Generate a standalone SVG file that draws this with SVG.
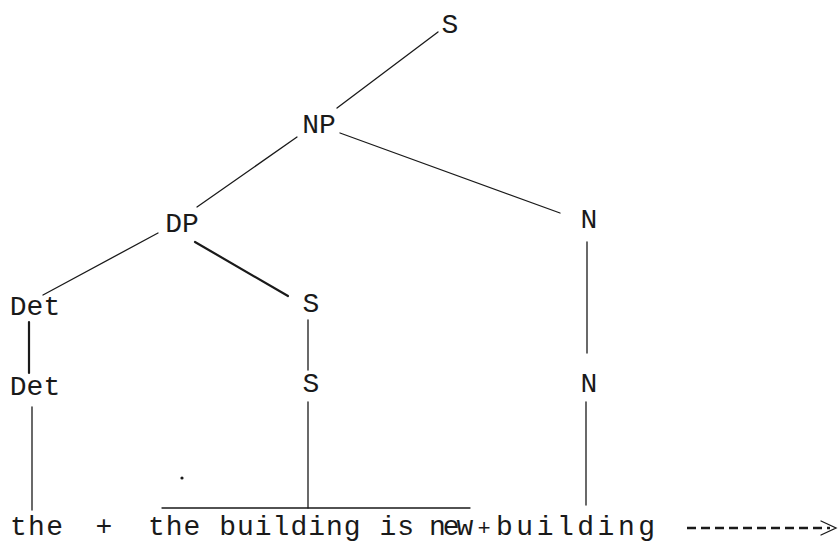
<svg xmlns="http://www.w3.org/2000/svg" width="838" height="543" viewBox="0 0 838 543">
<style>
text{font-family:"Liberation Mono","DejaVu Sans Mono",monospace;font-size:28px;fill:#1a1a1a;}
.c{text-anchor:middle;}
.p{font-size:22px;}
.e{stroke:#1a1a1a;stroke-width:1.3;fill:none;stroke-linecap:round;}
.t{stroke-width:2.2;}
.d{stroke-dasharray:9 5;stroke-width:2.4;stroke-linecap:butt;}
</style>
<rect width="838" height="543" fill="#ffffff"/>
<g id="connectors">
<line class="e" x1="438" y1="32" x2="337" y2="108"/>
<line class="e" x1="340" y1="133" x2="560" y2="213"/>
<line class="e" x1="297" y1="137" x2="197" y2="207"/>
<line class="e" x1="158" y1="233" x2="43" y2="295"/>
<line class="e t" x1="195" y1="242" x2="288" y2="296"/>
<line class="e t" x1="29" y1="322" x2="29" y2="373"/>
<line class="e" x1="308" y1="320" x2="308" y2="370"/>
<line class="e" x1="587" y1="242" x2="587" y2="353"/>
<line class="e" x1="32" y1="407" x2="32" y2="510"/>
<line class="e" x1="308" y1="402" x2="308" y2="508"/>
<line class="e" x1="162" y1="508" x2="470" y2="508"/>
<line class="e" x1="586" y1="402" x2="586" y2="505"/>
<line class="e d" x1="687" y1="528" x2="830" y2="528"/>
<path class="e" d="M821 521 L836 528 L821 535" stroke-width="2"/>
</g>
<g id="node-S-root"><text class="c" x="450" y="33">S</text></g>
<g id="node-NP"><text class="c" x="319" y="133">NP</text></g>
<g id="node-N-1"><text class="c" x="589" y="228">N</text></g>
<g id="node-DP"><text class="c" x="182" y="232">DP</text></g>
<g id="node-Det-1"><text class="c" x="35" y="315">Det</text></g>
<g id="node-S-1"><text class="c" x="311" y="312">S</text></g>
<g id="node-Det-2"><text class="c" x="35" y="395">Det</text></g>
<g id="node-S-2"><text class="c" x="311" y="392">S</text></g>
<g id="node-N-2"><text class="c" x="589" y="392">N</text></g>
<g id="dot"><circle cx="182" cy="478" r="1.6" fill="#1a1a1a"/></g>
<g id="leaf-the"><text x="10" y="535" textLength="53" lengthAdjust="spacing">the</text></g>
<g id="plus-1"><text class="c" x="104" y="535">+</text></g>
<g id="leaf-sentence"><text x="148" y="535" textLength="266" lengthAdjust="spacing">the building is</text></g>
<g id="leaf-new"><text x="429" y="535" letter-spacing="-3">new</text></g>
<g id="plus-2"><text class="c p" x="484" y="535">+</text></g>
<g id="leaf-building"><text x="496" y="535" textLength="159" lengthAdjust="spacing">building</text></g>
</svg>
